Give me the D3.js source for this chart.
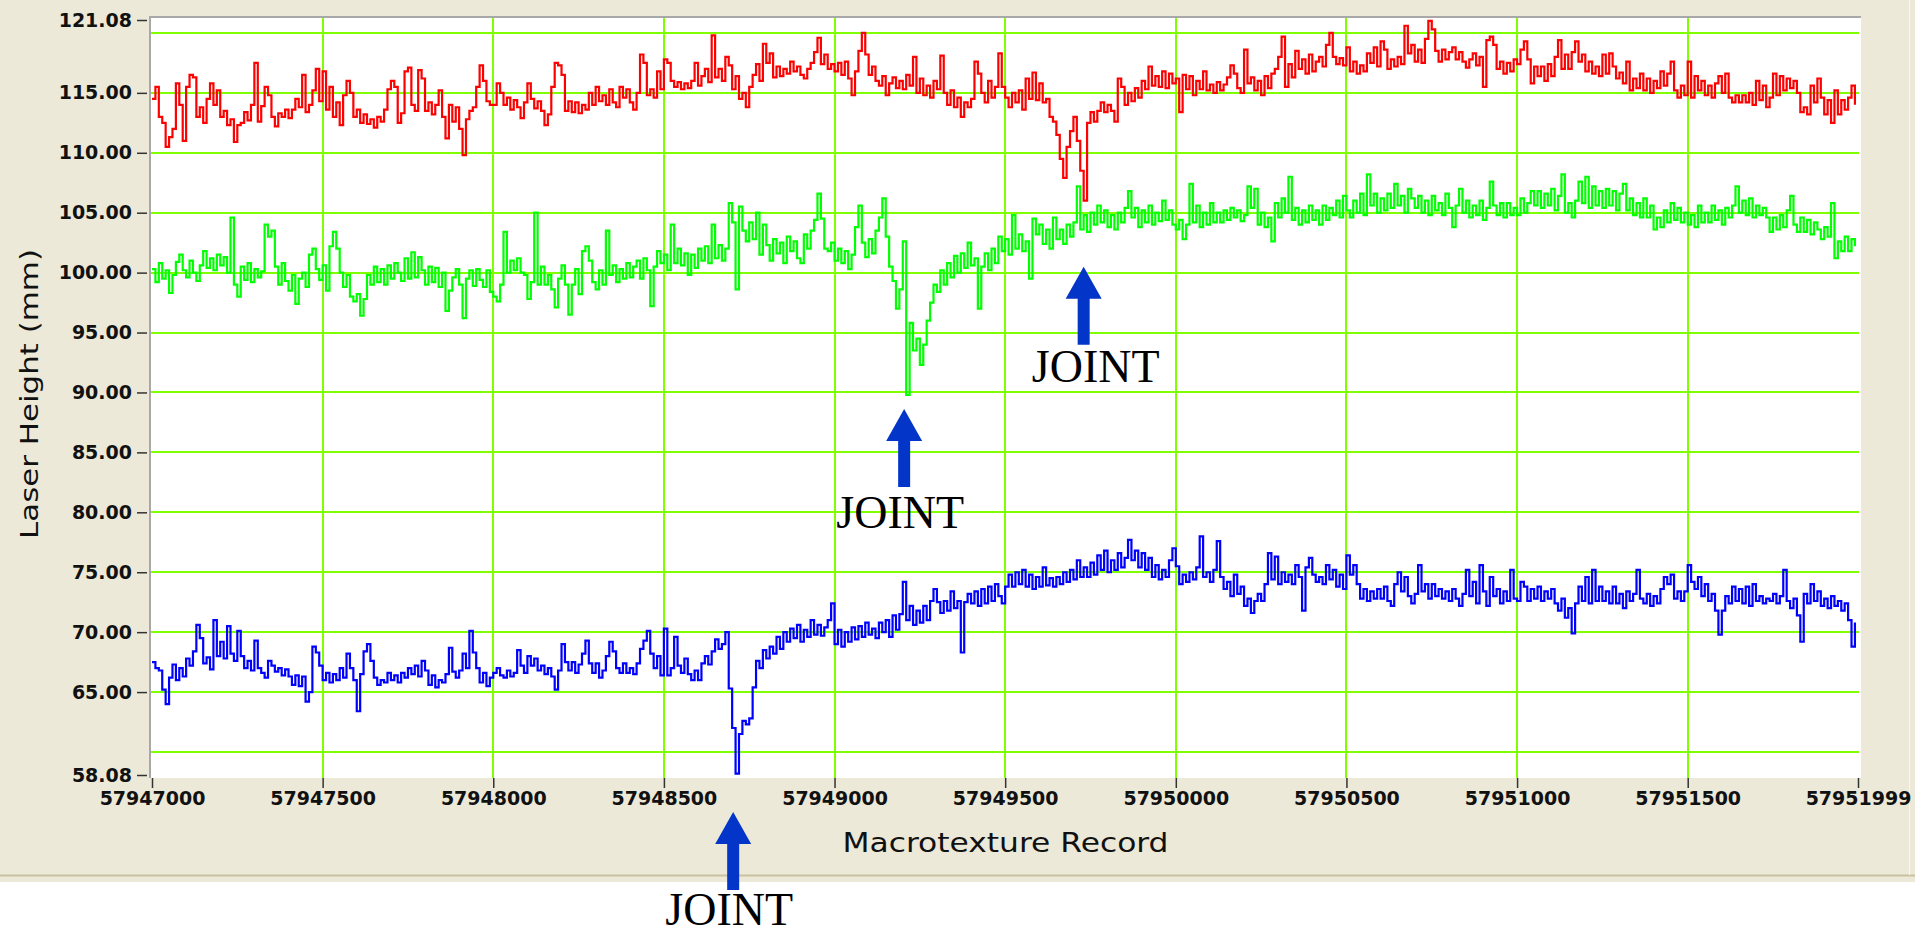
<!DOCTYPE html>
<html><head><meta charset="utf-8">
<script src="https://cdn.jsdelivr.net/npm/d3@7"></script>
<style>html,body{margin:0;padding:0;background:#fff;overflow:hidden}</style>
</head><body><svg id="chart" width="1915" height="935"></svg>
<script>
// ---- data (one value per 10 records) ----
const recordStart = 57947000;
const recordStep = 10;

const redValues = [
114.5,115.5,113.0,112.5,110.5,111.3,112.0,115.8,114.0,111.0,
115.5,116.5,116.3,113.0,113.8,112.5,114.5,115.8,114.0,115.2,
113.0,113.5,112.3,112.8,110.9,112.3,112.5,113.4,112.7,114.0,
117.5,112.6,113.9,115.5,114.8,113.0,112.2,113.3,113.0,113.6,
112.9,113.6,114.5,113.8,116.5,113.4,114.0,115.2,117.0,114.3,
116.8,113.6,115.5,113.0,114.2,112.3,114.8,116.0,115.0,113.0,
113.6,112.5,113.2,112.4,112.8,112.1,113.0,112.6,113.6,115.3,
116.0,115.5,112.5,113.3,116.8,117.1,114.0,113.5,116.9,116.2,
113.5,114.2,113.2,114.0,115.2,113.0,111.2,114.0,112.6,113.8,
112.0,109.8,112.8,113.5,113.8,115.5,117.3,116.0,114.3,114.0,
114.0,115.8,115.0,114.0,114.6,113.6,114.4,113.8,112.9,114.2,
115.8,114.5,113.7,114.3,113.5,112.3,113.2,115.5,117.5,117.3,
116.5,113.5,114.3,113.4,114.2,113.3,114.0,113.6,115.0,114.0,
115.5,114.3,114.8,114.0,115.3,114.2,113.8,115.5,114.6,115.3,
114.2,113.6,115.0,118.2,117.5,114.8,115.3,114.6,116.8,115.3,
117.8,117.5,116.0,115.5,115.9,115.3,115.8,115.4,116.0,117.5,
115.6,116.4,117.0,115.9,119.8,116.3,117.0,116.0,118.0,117.3,
115.3,116.4,114.5,115.0,113.8,115.5,116.5,117.4,116.0,119.1,
117.5,118.3,116.3,117.2,116.4,117.0,116.6,117.6,116.8,117.2,
116.5,116.2,117.0,117.5,118.4,119.6,117.4,118.2,117.0,117.4,
116.8,117.5,116.5,117.6,116.2,114.8,116.8,118.5,120.0,118.2,
116.5,117.2,116.0,115.6,116.4,114.8,115.8,116.3,115.4,116.0,
115.3,116.5,115.6,118.0,115.0,116.2,114.8,115.6,114.6,116.0,
115.3,118.1,115.0,114.0,115.2,113.8,114.6,113.0,114.2,113.8,
114.5,117.6,116.6,115.0,114.2,116.0,114.6,115.5,118.3,115.5,
114.6,113.8,115.0,114.2,115.2,113.6,116.2,114.5,116.7,114.4,
115.8,114.2,114.5,113.0,112.6,111.5,109.5,107.9,110.5,111.8,
113.0,111.0,108.5,106.0,112.5,113.4,112.6,113.5,114.2,113.4,
114.0,113.5,112.6,116.2,115.5,114.0,115.0,114.3,115.4,114.6,
116.0,115.3,117.2,115.6,116.4,115.5,116.8,115.4,116.6,115.8,
116.2,113.4,116.5,115.3,116.4,114.8,116.0,115.3,116.8,115.2,
115.7,115.0,115.9,115.2,115.7,116.3,117.3,116.6,115.4,115.0,
118.6,115.8,116.3,115.2,116.0,114.8,116.4,115.4,116.6,117.0,
118.0,119.7,115.5,117.4,116.3,118.5,117.0,117.8,116.6,118.2,
116.8,117.6,118.0,117.2,119.0,120.0,118.0,117.4,117.9,117.3,
118.8,116.8,117.6,116.6,117.3,116.8,118.3,117.5,118.8,117.2,
119.3,118.6,117.0,117.8,117.2,118.0,117.4,120.6,118.3,119.0,
117.6,118.6,117.5,119.5,121.0,120.3,118.5,117.6,118.6,117.8,
118.4,118.8,117.8,118.4,117.6,117.1,117.8,118.3,117.3,118.0,
115.5,119.4,119.7,119.0,117.0,117.6,116.6,117.5,116.8,117.8,
117.4,118.6,119.3,117.8,115.8,117.2,116.4,117.2,116.0,117.4,
116.4,118.0,119.4,117.0,118.2,117.0,118.4,119.3,117.6,118.2,
116.8,117.6,116.6,117.2,116.4,118.2,116.6,118.3,117.2,116.2,
116.7,115.8,117.6,115.2,116.2,115.4,116.6,115.2,116.2,115.0,
116.0,115.4,116.8,115.6,116.6,117.6,115.2,114.6,115.6,114.8,
117.6,114.6,116.4,115.2,116.0,114.8,115.6,114.6,115.8,116.4,
115.0,116.6,114.6,114.2,114.8,114.2,114.8,114.2,115.0,114.0,
116.0,114.4,115.6,113.8,114.6,116.6,114.8,116.4,115.2,116.2,
115.4,116.0,115.0,113.4,113.8,113.2,115.6,114.2,116.2,114.6,
113.2,114.4,112.5,115.2,113.2,114.4,113.6,114.6,115.6,114.0
];

const greenValues = [
100.3,99.2,100.8,99.5,100.2,98.3,99.8,100.9,101.5,100.2,
99.6,101.0,100.0,99.3,100.6,101.8,100.4,101.2,100.2,101.5,
100.6,101.3,100.0,104.6,99.0,98.0,100.5,99.4,100.8,99.2,
100.3,99.6,100.1,104.0,103.0,103.5,100.5,99.0,100.8,99.3,
98.5,99.8,97.4,99.5,100.0,98.8,101.5,102.0,100.3,99.4,
100.6,98.5,102.2,103.4,102.0,100.0,98.8,99.8,98.0,97.6,
98.2,96.4,97.8,99.8,99.0,100.5,99.2,100.3,99.0,100.6,
99.5,100.8,100.0,99.3,101.2,99.5,101.7,99.6,101.3,100.2,
99.0,100.5,99.2,100.4,98.8,100.0,96.8,98.5,99.6,100.3,
99.0,96.2,99.5,100.2,98.9,100.3,99.4,98.8,100.2,98.4,
98.0,97.6,99.0,103.4,100.0,101.0,100.2,101.2,100.0,99.8,
97.8,99.2,105.0,99.0,100.5,99.0,99.8,98.6,97.1,99.5,
100.6,99.0,96.5,99.0,100.3,98.2,101.8,102.2,101.0,99.2,
98.6,100.2,99.0,103.5,99.8,100.6,99.2,100.3,99.5,100.8,
99.6,100.5,101.0,99.5,101.2,100.2,97.2,100.5,101.8,100.8,
101.5,100.2,104.0,100.8,102.0,100.6,101.6,99.8,101.5,100.4,
102.0,101.0,102.2,100.8,104.0,101.2,102.3,101.0,102.0,105.8,
104.2,98.6,105.5,103.5,102.6,104.2,102.8,105.0,101.5,104.0,
102.3,101.0,102.8,101.6,102.5,100.8,103.0,101.8,102.6,101.2,
100.8,103.2,102.0,103.5,104.4,106.6,104.5,102.0,101.8,102.5,
101.0,102.0,100.8,101.8,100.3,101.5,103.8,105.6,102.5,101.3,
102.8,101.6,103.5,104.6,106.2,103.0,100.5,99.3,97.0,98.6,
102.6,89.8,95.8,93.5,94.5,92.3,94.0,96.0,97.5,99.0,
98.4,100.2,99.0,100.8,99.6,101.4,100.0,101.6,100.4,102.5,
100.6,101.2,97.0,100.5,101.6,100.2,102.0,100.8,103.0,101.8,
102.8,101.5,104.8,102.0,103.2,101.8,102.6,99.5,104.5,103.2,
104.0,102.4,103.6,102.0,104.6,102.8,103.6,102.4,104.0,103.0,
104.2,107.2,103.6,104.8,103.4,105.0,104.0,105.6,104.2,105.2,
103.8,104.8,103.6,105.0,104.2,105.4,106.8,104.6,105.4,103.8,
105.2,104.2,105.6,104.0,105.0,104.3,106.0,104.4,105.2,104.0,
103.6,104.4,102.8,104.0,107.4,104.2,105.6,103.8,105.0,104.0,
105.8,104.2,105.0,104.2,105.2,104.4,105.4,104.6,105.2,104.3,
104.8,107.2,105.4,107.0,104.0,105.0,103.8,104.6,102.6,105.8,
104.6,106.2,105.0,108.0,104.4,105.4,104.0,105.2,104.2,105.6,
104.4,105.2,104.0,105.6,104.4,105.4,104.8,106.0,104.6,106.4,
105.2,104.6,106.0,105.0,106.6,104.8,108.2,105.6,106.6,105.0,
106.2,105.2,106.6,105.4,107.4,105.6,106.4,105.0,107.0,106.2,
105.4,106.4,105.0,106.0,104.8,106.4,105.2,105.8,104.8,106.6,
105.4,103.8,105.6,107.0,105.0,106.0,104.6,105.6,104.8,106.0,
104.4,105.4,107.6,105.6,104.8,105.8,104.6,105.8,104.8,105.4,
104.8,106.2,105.0,105.8,106.8,105.6,106.8,105.4,106.6,105.6,
107.0,105.2,106.4,108.2,105.0,105.8,104.6,106.0,107.6,105.8,
108.0,105.4,107.2,105.6,106.8,105.4,107.0,105.6,106.8,105.2,
106.6,107.4,105.2,106.2,104.8,105.8,104.6,106.2,104.6,105.6,
103.6,104.6,103.8,105.2,104.2,105.8,104.4,105.4,104.2,105.0,
104.0,104.8,103.8,105.6,104.2,105.0,104.2,105.6,104.4,105.2,
104.0,105.4,104.6,105.6,107.2,105.0,106.0,104.8,106.2,104.6,
105.6,104.8,105.4,104.6,103.4,104.6,103.6,104.8,103.8,105.2,
106.4,104.0,103.4,104.6,103.4,104.4,103.2,104.2,103.6,102.8,
103.8,103.0,105.8,101.2,102.6,101.8,103.0,101.8,102.8,102.2
];

const blueValues = [
67.5,67.0,66.8,65.2,64.0,66.2,67.3,66.0,67.0,66.3,
67.8,67.2,68.4,70.6,69.5,67.4,67.9,66.9,71.0,68.0,
69.2,67.8,70.5,68.2,67.6,70.1,68.0,67.0,67.6,66.8,
69.3,67.0,66.6,66.2,67.6,67.2,66.7,67.0,66.4,66.9,
66.3,65.6,66.4,65.5,66.3,64.2,65.0,68.8,68.3,67.2,
66.0,66.6,65.8,66.5,66.0,67.0,66.2,68.2,67.0,66.0,
63.4,66.5,68.4,69.0,67.6,66.2,65.6,66.0,65.8,66.6,
66.0,66.4,65.8,66.6,66.2,67.0,66.5,67.2,66.3,67.6,
66.8,65.6,66.4,65.4,66.0,65.8,66.5,68.7,66.7,66.2,
66.8,68.2,67.0,70.1,68.3,67.0,65.8,66.6,65.5,66.2,
66.6,67.0,66.4,66.2,66.8,66.3,66.6,68.5,67.2,66.6,
68.0,67.2,67.8,66.8,67.2,66.5,67.0,66.3,65.2,66.8,
69.0,67.5,66.8,67.5,66.6,67.3,68.2,69.3,67.4,66.6,
67.4,66.2,66.8,68.0,69.2,68.4,67.0,66.6,67.4,66.6,
67.0,66.5,67.4,68.6,69.3,70.1,68.2,67.0,68.0,66.4,
70.3,66.4,67.0,69.6,67.2,66.6,67.8,66.5,66.0,66.8,
66.0,67.4,68.0,67.3,68.4,69.4,68.6,69.0,70.0,65.3,
62.0,58.2,61.5,62.6,62.3,62.8,65.4,67.6,67.0,68.5,
67.8,68.8,68.2,69.6,68.6,70.0,69.2,70.3,69.5,70.6,
69.2,70.2,69.6,71.0,69.8,70.6,69.7,70.4,71.0,72.4,
69.0,70.2,68.8,70.0,69.2,70.4,69.4,70.5,69.6,70.8,
69.8,70.3,69.5,70.8,70.0,71.0,69.6,71.4,70.2,71.5,
74.2,71.0,72.2,70.6,71.8,70.8,72.2,71.0,72.6,73.6,
72.5,71.6,72.6,71.8,73.4,72.0,72.6,68.3,72.5,73.2,
72.4,73.4,72.2,73.6,72.4,73.8,72.6,74.0,73.0,72.4,
73.8,74.8,73.8,75.0,74.0,75.2,73.8,74.8,73.6,74.6,
73.8,75.4,73.9,74.5,73.8,74.6,74.0,75.0,74.2,75.2,
74.4,76.0,74.6,75.4,74.6,75.8,74.8,76.4,75.2,76.8,
75.0,76.0,75.2,76.6,75.4,76.2,77.7,76.0,76.8,75.4,
76.6,75.2,76.2,74.6,75.6,74.4,75.2,74.6,76.0,77.0,
75.5,74.0,74.8,74.2,75.0,74.4,75.4,78.0,74.6,75.0,
74.2,75.2,77.6,74.6,73.6,74.2,73.0,74.8,73.2,73.8,
72.2,72.8,71.6,72.6,73.2,72.6,74.0,76.6,74.4,76.3,
74.0,75.0,74.2,74.8,74.0,75.6,74.6,71.8,75.4,76.2,
74.8,74.2,74.6,74.0,75.6,74.4,75.2,73.8,74.8,73.6,
76.4,74.8,75.6,74.0,72.8,73.6,72.6,73.4,72.8,73.6,
72.8,73.8,72.6,72.2,74.0,75.0,73.4,74.6,73.0,72.4,
73.2,75.6,73.4,74.0,72.8,74.0,73.0,73.6,72.8,73.4,
72.6,73.6,72.8,72.2,73.2,75.2,73.0,74.2,72.4,75.6,
73.4,72.2,74.6,73.0,73.6,72.4,73.4,72.6,75.2,72.8,
72.6,74.2,73.8,72.6,73.6,72.8,73.8,72.6,73.4,72.8,
73.6,72.4,71.8,72.8,71.2,72.0,69.9,72.4,73.8,72.6,
74.6,72.4,75.2,72.6,73.8,72.6,73.4,72.4,73.8,72.4,
73.2,72.0,73.4,72.6,73.2,75.2,72.8,72.4,73.2,72.2,
73.0,72.4,73.6,74.6,74.0,74.8,72.8,73.4,72.6,73.4,
75.6,74.2,73.6,74.6,73.0,74.0,72.6,73.2,71.8,69.8,
71.8,73.0,72.4,73.8,72.6,73.6,72.4,73.8,72.2,74.0,
72.6,73.0,72.4,72.8,72.6,73.2,72.4,73.0,75.2,72.6,
72.0,72.8,71.4,69.2,73.2,72.4,74.0,72.6,73.4,72.2,
72.8,72.0,73.0,72.2,72.6,71.8,72.4,71.0,68.8,70.8
];

const xTickValues = [57947000, 57947500, 57948000, 57948500, 57949000, 57949500, 57950000, 57950500, 57951000, 57951500, 57951999];
const xGridValues = [57947500, 57948000, 57948500, 57949000, 57949500, 57950000, 57950500, 57951000, 57951500];
const yTickValues = [58.08, 65, 70, 75, 80, 85, 90, 95, 100, 105, 110, 115, 121.08];
const yGridValues = [60, 65, 70, 75, 80, 85, 90, 95, 100, 105, 110, 115, 120];

// joint annotations: record the arrow points at, value at the arrow tip, text shift
const jointRecords   = [57948703, 57949204, 57949730];
const jointTipValues = [54.99, 88.62, 100.5];
const jointTextDx    = [-4, -4, 12];
const jointTextDy    = [113, 119, 115];
const jointLabel = "JOINT";

const xTitle = "Macrotexture Record";
const yTitle = "Laser Height (mm)";

// ---- drawing ----
const svg = d3.select("#chart");
const W = 1915, H = 935;
const plot = {left: 150, top: 17, right: 1861, bottom: 778};

const x = d3.scaleLinear().domain([57947000, 57951999]).range([152, 1858]);
const y = d3.scaleLinear().domain([58.08, 121.08]).range([775, 20]);

svg.append("rect").attr("width", W).attr("height", H).attr("fill", "#ffffff");
svg.append("rect").attr("x", 0).attr("y", 0).attr("width", W).attr("height", 882).attr("fill", "#ECE9D8");
svg.append("line").attr("x1", 0).attr("x2", W).attr("y1", 875.5).attr("y2", 875.5).attr("stroke", "#C9C1A4").attr("stroke-width", 2);
svg.append("line").attr("x1", 1909.5).attr("x2", 1909.5).attr("y1", 0).attr("y2", 875).attr("stroke", "#F8F6EE").attr("stroke-width", 1);

svg.append("rect").attr("x", plot.left).attr("y", plot.top)
  .attr("width", plot.right - plot.left).attr("height", plot.bottom - plot.top)
  .attr("fill", "#ffffff");

const grid = svg.append("g");
grid.selectAll("line.h").data(yGridValues).join("line").attr("class", "h")
  .attr("x1", plot.left).attr("x2", 1859)
  .attr("y1", d => Math.round(y(d))).attr("y2", d => Math.round(y(d)))
  .attr("stroke", "#80FF00").attr("stroke-width", 2);
grid.selectAll("line.v").data(xGridValues).join("line").attr("class", "v")
  .attr("x1", d => Math.round(x(d))).attr("x2", d => Math.round(x(d)))
  .attr("y1", plot.top).attr("y2", plot.bottom)
  .attr("stroke", "#80FF00").attr("stroke-width", 2);

// plot border (sunken look)
svg.append("path").attr("d", `M${plot.left},${plot.bottom}V${plot.top}H${plot.right}`)
  .attr("fill", "none").attr("stroke", "#A8A8A8").attr("stroke-width", 2);

svg.append("clipPath").attr("id", "clip").append("rect")
  .attr("x", plot.left + 1).attr("y", plot.top + 1)
  .attr("width", plot.right - plot.left - 1).attr("height", plot.bottom - plot.top - 1);

const line = d3.line()
  .x((d, i) => x(recordStart + i * recordStep))
  .y(d => y(d))
  .curve(d3.curveStepAfter);

const series = [
  {values: redValues, color: "#FF0000"},
  {values: greenValues, color: "#00FF00"},
  {values: blueValues, color: "#0000FF"}
];
svg.append("g").attr("clip-path", "url(#clip)")
  .selectAll("path").data(series).join("path")
  .attr("d", d => line(d.values))
  .attr("fill", "none").attr("stroke", d => d.color)
  .attr("stroke-width", 2.2).attr("stroke-linejoin", "miter");

// axes
const tickFont = "'DejaVu Sans', sans-serif";
const yAxis = d3.axisLeft(y).tickValues(yTickValues).tickFormat(d => d.toFixed(2))
  .tickSize(10).tickPadding(5);
const gy = svg.append("g").attr("transform", "translate(147,0)").call(yAxis);
const xAxis = d3.axisBottom(x).tickValues(xTickValues).tickFormat(d => String(d))
  .tickSize(10).tickPadding(4);
const gx = svg.append("g").attr("transform", `translate(0,${plot.bottom})`).call(xAxis);
[gx, gy].forEach(g => {
  g.select(".domain").remove();
  g.selectAll(".tick line").attr("stroke", "#333").attr("stroke-width", 1.5);
  g.selectAll(".tick text").attr("fill", "#111")
    .style("font-family", tickFont).style("font-weight", "bold").style("font-size", "19px");
});

// titles
svg.append("text").attr("x", (plot.left + plot.right) / 2).attr("y", 852)
  .attr("text-anchor", "middle").attr("textLength", 326).attr("lengthAdjust", "spacingAndGlyphs")
  .style("font-family", tickFont).style("font-size", "27px").attr("fill", "#111")
  .text(xTitle);
svg.append("text").attr("transform", "translate(38,394) rotate(-90)")
  .attr("text-anchor", "middle").attr("textLength", 290).attr("lengthAdjust", "spacingAndGlyphs")
  .style("font-family", tickFont).style("font-size", "25px").attr("fill", "#111")
  .text(yTitle);

// joint arrows
const joints = jointRecords.map((r, i) => ({r, v: jointTipValues[i], dx: jointTextDx[i], dy: jointTextDy[i]}));
const ann = svg.append("g");
ann.selectAll("path").data(joints).join("path")
  .attr("d", d => {
    const cx = x(d.r), ty = y(d.v);
    return `M${cx},${ty} L${cx + 18},${ty + 32} L${cx + 6},${ty + 32} L${cx + 6},${ty + 78} L${cx - 6},${ty + 78} L${cx - 6},${ty + 32} L${cx - 18},${ty + 32} Z`;
  })
  .attr("fill", "#0336C8");
ann.selectAll("text").data(joints).join("text")
  .attr("x", d => x(d.r) + d.dx).attr("y", d => y(d.v) + d.dy)
  .attr("text-anchor", "middle")
  .style("font-family", "'Liberation Serif', 'Times New Roman', serif").style("font-size", "46px")
  .attr("fill", "#000").text(jointLabel);
</script></body></html>
